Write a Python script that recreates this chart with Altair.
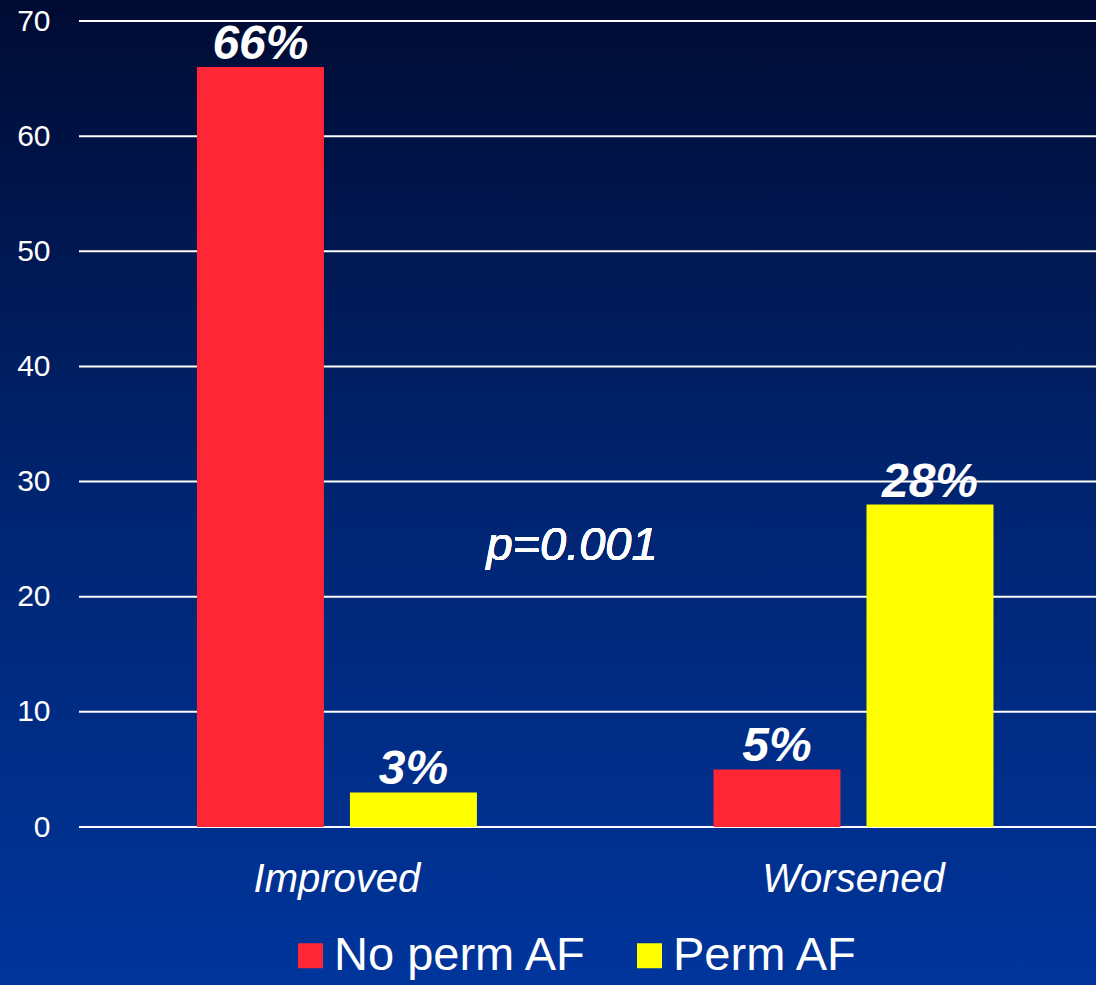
import altair as alt
import pandas as pd

# Share of patients whose status improved or worsened, by AF group
outcomes = ["Improved", "Worsened"]
groups = ["No perm AF", "Perm AF"]
no_perm_af = [66, 5]
perm_af = [3, 28]
y_ticks = [0, 10, 20, 30, 40, 50, 60, 70]

rows = []
for i, outcome in enumerate(outcomes):
    rows.append({"outcome": outcome, "group": groups[0], "value": no_perm_af[i]})
    rows.append({"outcome": outcome, "group": groups[1], "value": perm_af[i]})
df = pd.DataFrame(rows)
df["label"] = df["value"].astype(str) + "%"
ticks_df = pd.DataFrame({"tick": y_ticks})

W, H = 1017, 806
PAD = {"left": 79, "top": 21, "right": 0, "bottom": 158}
FONT = "Liberation Sans"

# full-canvas gradient backdrop
bg = alt.Chart(ticks_df).mark_rect(
    color=alt.Gradient(
        gradient="linear",
        stops=[
            alt.GradientStop(color="#000b33", offset=0),
            alt.GradientStop(color="#002470", offset=0.5),
            alt.GradientStop(color="#00359c", offset=1),
        ],
        x1=0, x2=0, y1=0, y2=1,
    )
).encode(
    x=alt.value(-PAD["left"]),
    x2=alt.value(W + PAD["right"]),
    y=alt.value(-PAD["top"]),
    y2=alt.value(H + PAD["bottom"]),
)

y_scale = alt.Scale(domain=[0, 70], nice=False)
y_axis = alt.Axis(
    title=None,
    values=y_ticks,
    labelFont=FONT,
    labelFontSize=30,
    labelColor="white",
    labelPadding=29,
    ticks=False,
    tickSize=0,
    domain=False,
    grid=False,
    zindex=1,
)

# horizontal gridlines, drawn above the backdrop and below the bars
grid = alt.Chart(ticks_df).mark_rule(color="white", strokeWidth=2).encode(
    y=alt.Y("tick:Q", scale=y_scale, axis=y_axis),
    x=alt.value(0),
    x2=alt.value(W),
)

x_enc = alt.X(
    "outcome:N",
    sort=outcomes,
    scale=alt.Scale(paddingInner=0.458, paddingOuter=0.2134, align=0.535),
    axis=alt.Axis(
        title=None,
        labelAngle=0,
        labelFont=FONT,
        labelFontSize=40,
        labelFontStyle="italic",
        labelColor="white",
        labelBaseline="alphabetic",
        labelPadding=64,
        labelLimit=0,
        ticks=False,
        tickSize=0,
        domain=False,
        grid=False,
        zindex=1,
    ),
)
xoff = alt.XOffset("group:N", sort=groups, scale=alt.Scale(paddingInner=0.17, paddingOuter=0))

bars = alt.Chart(df).mark_bar().encode(
    x=x_enc,
    xOffset=xoff,
    y=alt.Y("value:Q", scale=y_scale, axis=y_axis),
    color=alt.Color(
        "group:N",
        sort=groups,
        scale=alt.Scale(domain=groups, range=["#ff2736", "#ffff00"]),
        legend=alt.Legend(
            title=None,
            orient="none",
            direction="horizontal",
            legendX=208,
            legendY=911,
            padding=0,
            symbolType="square",
            symbolSize=625,
            symbolStrokeWidth=0,
            symbolOpacity=1,
            labelFont=FONT,
            labelFontSize=47,
            labelColor="white",
            labelOffset=0,
            labelLimit=0,
            columnPadding=38,
            zindex=1,
        ),
    ),
)

labels = alt.Chart(df).mark_text(
    font=FONT,
    fontSize=48,
    fontStyle="italic",
    fontWeight="bold",
    color="white",
    baseline="alphabetic",
    dy=-8,
).encode(
    x=alt.X("outcome:N", sort=outcomes),
    xOffset=alt.XOffset("group:N", sort=groups),
    y="value:Q",
    text="label:N",
)

pval = alt.Chart(ticks_df).mark_text(
    font=FONT,
    fontSize=47,
    fontStyle="italic",
    color="white",
    baseline="alphabetic",
    align="center",
    text="p=0.001",
).encode(x=alt.value(493), y=alt.value(539))

chart = alt.layer(bg, grid, bars, labels, pval).properties(
    width=W,
    height=H,
    padding=PAD,
    autosize=alt.AutoSizeParams(type="none"),
    background="#001a66",
).configure_view(stroke=None)

chart.save("out.html", embed_options={"renderer": "svg", "actions": False})
